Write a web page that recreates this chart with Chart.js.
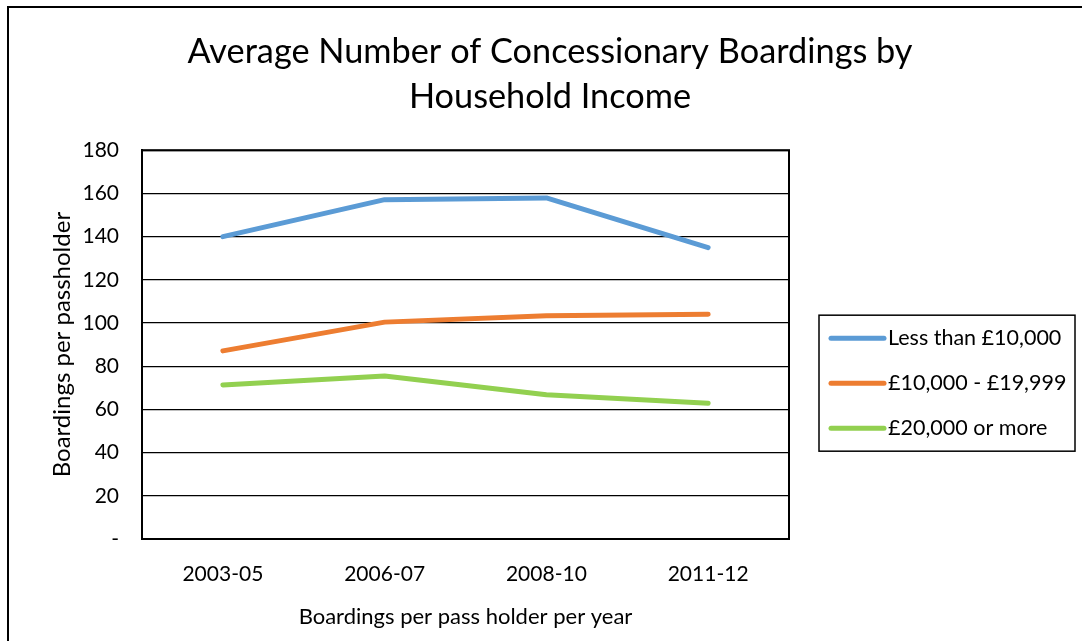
<!DOCTYPE html>
<html>
<head>
<meta charset="utf-8">
<title>Concessionary Boardings by Household Income</title>
<script src="https://cdn.jsdelivr.net/npm/chart.js@4"></script>
<style>
  html, body { margin: 0; padding: 0; background: #fff; }
  #wrap { position: relative; width: 1082px; height: 641px; }
</style>
</head>
<body>
<div id="wrap"><canvas id="boardingsChart"></canvas></div>
<script>
const periods = ["2003-05", "2006-07", "2008-10", "2011-12"];
const lessThan10k = [140, 157.1, 157.9, 134.9];
const from10kTo20k = [87.1, 100.4, 103.3, 104.1];
const over20k = [71.3, 75.5, 66.8, 62.8];

const seriesNames = ["Less than £10,000", "£10,000 - £19,999", "£20,000 or more"];
const yTicks = { min: 0, max: 180, step: 20 };

const FONT = "Lato, 'Open Sans', sans-serif";

// title is centred inside the outer frame, not over the plot + axes
const wideTitlePlugin = {
  id: "wideTitle",
  afterLayout(chart) {
    const t = chart.titleBlock;
    if (!t) return;
    t.left = 18;
    t.right = chart.width;
    t.width = t.right - t.left;
  },
};

// outer frame and the box round the plot area
const framePlugin = {
  id: "frame",
  afterDraw(chart) {
    const { ctx, chartArea: a } = chart;
    ctx.save();
    ctx.strokeStyle = "#000";
    ctx.lineWidth = 2;
    ctx.beginPath();
    ctx.moveTo(8, chart.height);
    ctx.lineTo(8, 7);
    ctx.lineTo(chart.width, 7);
    ctx.stroke();
    ctx.strokeRect(a.left, a.top, a.right - a.left, a.bottom - a.top);
    ctx.restore();
  },
};

// boxed legend to the right of the plot
const boxLegendPlugin = {
  id: "boxLegend",
  afterDraw(chart) {
    const { ctx, chartArea: a } = chart;
    const left = a.right + 30;
    const top = a.top + 165;
    const w = 256, h = 136, rowGap = 45;
    ctx.save();
    ctx.strokeStyle = "#000";
    ctx.lineWidth = 1.5;
    ctx.strokeRect(left, top, w, h);
    ctx.font = "21.5px " + FONT;
    ctx.textBaseline = "middle";
    ctx.textAlign = "left";
    chart.data.datasets.forEach((ds, i) => {
      const y = top + 23 + i * rowGap;
      ctx.strokeStyle = ds.borderColor;
      ctx.lineWidth = 5;
      ctx.lineCap = "round";
      ctx.beginPath();
      ctx.moveTo(left + 12, y);
      ctx.lineTo(left + 65, y);
      ctx.stroke();
      ctx.fillStyle = "#000";
      ctx.fillText(ds.label, left + 69, y);
    });
    ctx.restore();
  },
};

const lineStyle = {
  borderWidth: 5,
  pointRadius: 0,
  tension: 0,
  borderCapStyle: "round",
  borderJoinStyle: "round",
  fill: false,
};

new Chart(document.getElementById("boardingsChart"), {
  type: "line",
  data: {
    labels: periods,
    datasets: [
      { label: seriesNames[0], data: lessThan10k, borderColor: "#5B9BD5", backgroundColor: "#5B9BD5", ...lineStyle },
      { label: seriesNames[1], data: from10kTo20k, borderColor: "#ED7D31", backgroundColor: "#ED7D31", ...lineStyle },
      { label: seriesNames[2], data: over20k, borderColor: "#92D050", backgroundColor: "#92D050", ...lineStyle },
    ],
  },
  options: {
    responsive: true,
    maintainAspectRatio: false,
    animation: false,
    layout: { padding: { top: 0, right: 293, bottom: 0, left: 0 } },
    plugins: {
      legend: { display: false },
      tooltip: { enabled: false },
      title: {
        display: true,
        text: ["Average Number of Concessionary Boardings by", "Household Income"],
        color: "#000",
        font: { family: FONT, size: 34.3, weight: "normal", lineHeight: 1.3 },
        padding: { top: 30, bottom: 31 },
      },
    },
    scales: {
      x: {
        offset: true,
        grid: { display: false, drawTicks: false },
        border: { display: true, color: "#000", width: 2 },
        ticks: { color: "#000", font: { family: FONT, size: 21 }, padding: 23 },
        title: {
          display: true,
          text: "Boardings per pass holder per year",
          color: "#000",
          font: { family: FONT, size: 22 },
          padding: { top: 0, bottom: 11 },
        },
        afterFit(scale) { scale.height = 102; },
      },
      y: {
        min: yTicks.min,
        max: yTicks.max,
        grid: { color: "#000", lineWidth: 1.3, drawTicks: false },
        border: { display: true, color: "#000", width: 2 },
        ticks: {
          stepSize: yTicks.step,
          color: "#000",
          font: { family: FONT, size: 21 },
          padding: 23,
          callback: (v) => (v === 0 ? "-" : v),
        },
        title: {
          display: true,
          text: "Boardings per passholder",
          color: "#000",
          font: { family: FONT, size: 24 },
          padding: { top: 48, bottom: 0 },
        },
        afterFit(scale) { scale.width = 142; },
      },
    },
  },
  plugins: [wideTitlePlugin, framePlugin, boxLegendPlugin],
});
</script>
</body>
</html>
